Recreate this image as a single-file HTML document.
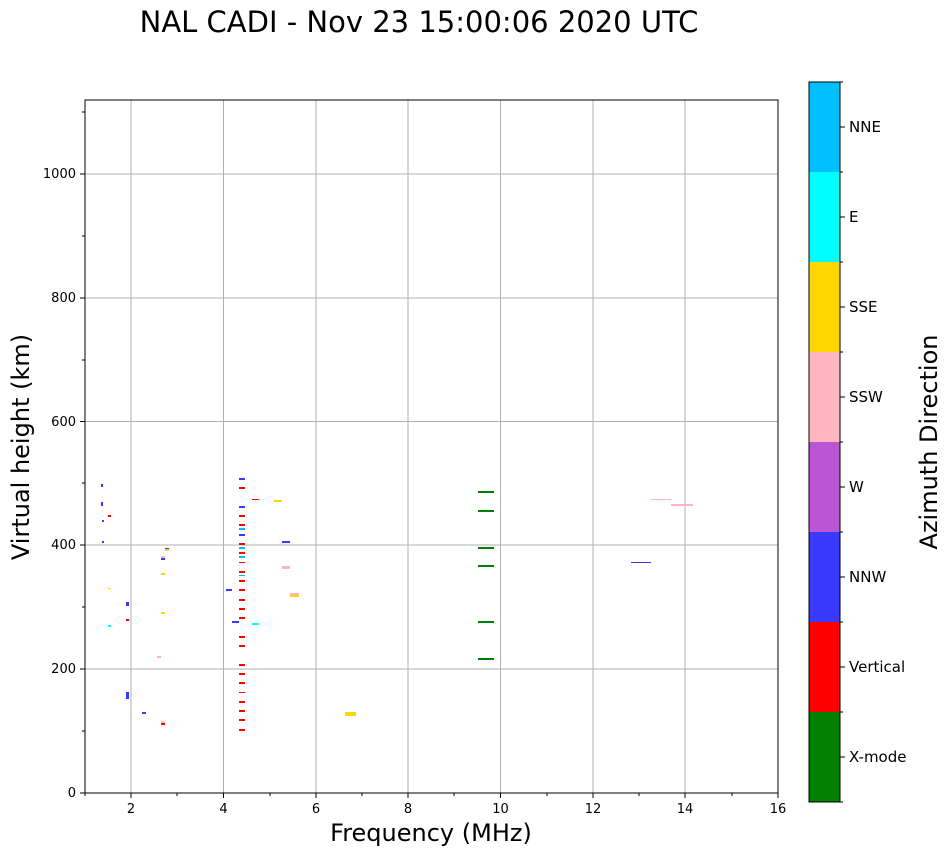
<!DOCTYPE html>
<html><head><style>body{margin:0;background:#fff;font-family:"DejaVu Sans",sans-serif}</style></head><body>
<svg width="951" height="856" xmlns="http://www.w3.org/2000/svg" font-family="DejaVu Sans, sans-serif">
<rect width="951" height="856" fill="#fff"/>
<text x="419" y="32" font-size="29" text-anchor="middle">NAL CADI - Nov 23 15:00:06 2020 UTC</text>
<g stroke="#b0b0b0" stroke-width="1">
<line x1="131" y1="100" x2="131" y2="793"/><line x1="223.5" y1="100" x2="223.5" y2="793"/><line x1="316" y1="100" x2="316" y2="793"/><line x1="408" y1="100" x2="408" y2="793"/><line x1="500.5" y1="100" x2="500.5" y2="793"/><line x1="593" y1="100" x2="593" y2="793"/><line x1="685" y1="100" x2="685" y2="793"/>
<line x1="85" y1="669" x2="778" y2="669"/><line x1="85" y1="545" x2="778" y2="545"/><line x1="85" y1="421.5" x2="778" y2="421.5"/><line x1="85" y1="298" x2="778" y2="298"/><line x1="85" y1="174" x2="778" y2="174"/>
</g>
<g>
<rect x="101" y="484" width="2" height="3" fill="#3a3aff"/><rect x="101" y="502" width="2" height="4" fill="#3a3aff"/><rect x="102" y="520" width="2" height="2" fill="#3a3aff"/><rect x="102" y="541" width="2" height="2" fill="#3a3aff"/><rect x="108" y="515" width="3" height="2" fill="red"/>
<rect x="165" y="548" width="4" height="1" fill="#3a3aff"/><rect x="165" y="549" width="4" height="2" fill="gold"/><rect x="161" y="556" width="4" height="2" fill="#ffb6c1"/><rect x="161" y="558" width="4" height="2" fill="#3a3aff"/><rect x="161" y="573" width="4" height="2" fill="gold"/><rect x="108" y="588" width="3" height="1" fill="gold"/><rect x="126" y="602" width="3" height="4" fill="#3a3aff"/><rect x="126" y="619" width="3" height="2" fill="red"/><rect x="108" y="625" width="3" height="2" fill="cyan"/><rect x="161" y="612" width="4" height="2" fill="gold"/><rect x="157" y="656" width="4" height="2" fill="#ffb6c1"/><rect x="126" y="692" width="3" height="7" fill="#3a3aff"/><rect x="142" y="712" width="4" height="2" fill="#3a3aff"/><rect x="161" y="721" width="4" height="2" fill="#ffb6c1"/><rect x="161" y="723" width="4" height="2" fill="red"/>
<g transform="translate(239,470)">
<rect y="8" width="6" height="2" fill="#3a3aff"/><rect y="17" width="6" height="2" fill="red"/><rect y="36" width="6" height="2" fill="#3a3aff"/><rect y="45" width="6" height="2" fill="red"/><rect y="54" width="6" height="2" fill="red"/><rect y="58" width="6" height="2" fill="#00bfff"/><rect y="64" width="6" height="2" fill="#3a3aff"/><rect y="73" width="6" height="2" fill="red"/><rect y="77" width="6" height="2" fill="#00bfff"/><rect y="82" width="6" height="2" fill="red"/><rect y="86" width="6" height="2" fill="#00bfff"/><rect y="92" width="6" height="1" fill="red"/><rect y="101" width="6" height="2" fill="red"/><rect y="105" width="6" height="1" fill="#00bfff"/><rect y="110" width="6" height="2" fill="red"/><rect y="119" width="6" height="2" fill="red"/><rect y="129" width="6" height="2" fill="red"/><rect y="138" width="6" height="2" fill="red"/><rect y="147" width="6" height="2" fill="red"/><rect y="166" width="6" height="2" fill="red"/><rect y="175" width="6" height="2" fill="red"/><rect y="194" width="6" height="2" fill="red"/><rect y="203" width="6" height="2" fill="red"/><rect y="212" width="6" height="2" fill="red"/><rect y="222" width="6" height="1" fill="red"/><rect y="231" width="6" height="2" fill="red"/><rect y="240" width="6" height="2" fill="red"/><rect y="249" width="6" height="2" fill="red"/><rect y="259" width="6" height="2" fill="red"/>
</g>
<rect x="252" y="499" width="7" height="1" fill="red"/><rect x="274" y="500" width="8" height="2" fill="gold"/><rect x="282" y="541" width="8" height="2" fill="#3a3aff"/><rect x="282" y="566" width="8" height="3" fill="#ffb6c1"/><rect x="226" y="589" width="6" height="2" fill="#3a3aff"/><rect x="290" y="593" width="9" height="2" fill="#ffb6c1"/><rect x="290" y="595" width="9" height="2" fill="gold"/><rect x="232" y="621" width="7" height="2" fill="#3a3aff"/><rect x="252" y="623" width="7" height="2" fill="cyan"/><rect x="345" y="712" width="11" height="4" fill="gold"/>
<g fill="green"><rect x="478" y="491" width="16" height="2"/><rect x="478" y="510" width="16" height="2"/><rect x="478" y="547" width="16" height="2"/><rect x="478" y="565" width="16" height="2"/><rect x="478" y="621" width="16" height="2"/><rect x="478" y="658" width="16" height="2"/></g>
<rect x="631" y="562" width="20" height="1" fill="#3a3aff"/><rect x="651" y="499" width="20" height="1" fill="#ffb6c1"/><rect x="671" y="504" width="22" height="2" fill="#ffb6c1"/>
</g>
<rect x="85" y="100" width="693" height="693" fill="none" stroke="#000" stroke-width="1"/>
<g stroke="#000"><line x1="131" y1="793" x2="131" y2="798"/><line x1="223.5" y1="793" x2="223.5" y2="798"/><line x1="316" y1="793" x2="316" y2="798"/><line x1="408" y1="793" x2="408" y2="798"/><line x1="500.5" y1="793" x2="500.5" y2="798"/><line x1="593" y1="793" x2="593" y2="798"/><line x1="685" y1="793" x2="685" y2="798"/><line x1="778" y1="793" x2="778" y2="798"/>
<line x1="80" y1="793" x2="85" y2="793"/><line x1="80" y1="669" x2="85" y2="669"/><line x1="80" y1="545" x2="85" y2="545"/><line x1="80" y1="421.5" x2="85" y2="421.5"/><line x1="80" y1="298" x2="85" y2="298"/><line x1="80" y1="174" x2="85" y2="174"/></g>
<g stroke="#000"><line x1="85" y1="793" x2="85" y2="796"/><line x1="177" y1="793" x2="177" y2="796"/><line x1="270" y1="793" x2="270" y2="796"/><line x1="362" y1="793" x2="362" y2="796"/><line x1="454" y1="793" x2="454" y2="796"/><line x1="547" y1="793" x2="547" y2="796"/><line x1="639" y1="793" x2="639" y2="796"/><line x1="732" y1="793" x2="732" y2="796"/>
<line x1="82" y1="731" x2="85" y2="731"/><line x1="82" y1="607" x2="85" y2="607"/><line x1="82" y1="483" x2="85" y2="483"/><line x1="82" y1="360" x2="85" y2="360"/><line x1="82" y1="236" x2="85" y2="236"/><line x1="82" y1="112" x2="85" y2="112"/></g>
<g font-size="13" text-anchor="middle"><text x="131" y="813">2</text><text x="223.5" y="813">4</text><text x="316" y="813">6</text><text x="408" y="813">8</text><text x="500.5" y="813">10</text><text x="593" y="813">12</text><text x="685" y="813">14</text><text x="778" y="813">16</text></g>
<g font-size="13" text-anchor="end"><text x="76" y="797">0</text><text x="76" y="673">200</text><text x="76" y="549">400</text><text x="76" y="426">600</text><text x="76" y="302">800</text><text x="76" y="178">1000</text></g>
<text x="431" y="841" font-size="24" text-anchor="middle">Frequency (MHz)</text>
<text transform="translate(29,447) rotate(-90)" font-size="24" text-anchor="middle">Virtual height (km)</text>
<rect x="809" y="82" width="31" height="90" fill="#00bfff"/><rect x="809" y="172" width="31" height="90" fill="cyan"/><rect x="809" y="262" width="31" height="90" fill="gold"/><rect x="809" y="352" width="31" height="90" fill="#ffb6c1"/><rect x="809" y="442" width="31" height="90" fill="#ba55d3"/><rect x="809" y="532" width="31" height="90" fill="#3a3aff"/><rect x="809" y="622" width="31" height="90" fill="red"/><rect x="809" y="712" width="31" height="90" fill="green"/>
<rect x="809" y="82" width="31" height="720" fill="none" stroke="#000"/>
<g stroke="#000"><line x1="840" y1="127" x2="845" y2="127"/><line x1="840" y1="217" x2="845" y2="217"/><line x1="840" y1="307" x2="845" y2="307"/><line x1="840" y1="397" x2="845" y2="397"/><line x1="840" y1="487" x2="845" y2="487"/><line x1="840" y1="577" x2="845" y2="577"/><line x1="840" y1="667" x2="845" y2="667"/><line x1="840" y1="757" x2="845" y2="757"/>
<line x1="840" y1="82" x2="843" y2="82"/><line x1="840" y1="172" x2="843" y2="172"/><line x1="840" y1="262" x2="843" y2="262"/><line x1="840" y1="352" x2="843" y2="352"/><line x1="840" y1="442" x2="843" y2="442"/><line x1="840" y1="532" x2="843" y2="532"/><line x1="840" y1="622" x2="843" y2="622"/><line x1="840" y1="712" x2="843" y2="712"/><line x1="840" y1="802" x2="843" y2="802"/></g>
<g font-size="15"><text x="849" y="132">NNE</text><text x="849" y="222">E</text><text x="849" y="312">SSE</text><text x="849" y="402">SSW</text><text x="849" y="492">W</text><text x="849" y="582">NNW</text><text x="849" y="672">Vertical</text><text x="849" y="762">X-mode</text></g>
<text transform="translate(937,442) rotate(-90)" font-size="24" text-anchor="middle">Azimuth Direction</text>
</svg>
</body></html>
